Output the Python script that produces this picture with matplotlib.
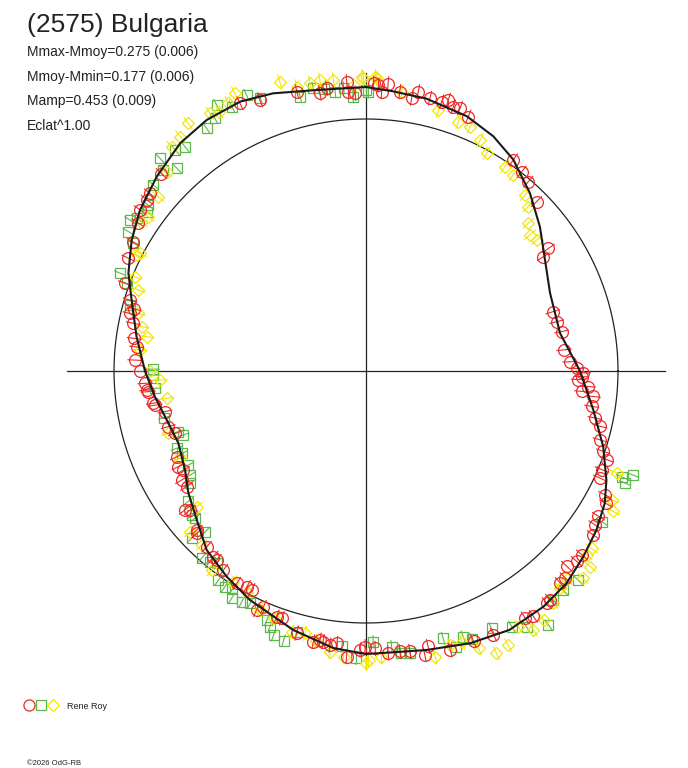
import numpy as np
import matplotlib.pyplot as plt

plt.rcParams['font.family'] = ['Liberation Sans', 'DejaVu Sans']

# units: 1 unit = 1 px at the chart scale, reference circle radius = 252
ref_radius = 252

# fitted curve: phase angle (deg) and radius
curve_ang = [180, 171.5, 163.1, 157.6, 150.8, 144.5, 137.1, 129.2, 122.4, 115,
             108.5, 100, 90, 84.5, 77.5, 68.4, 61.5, 55.1, 47.3, 39.7,
             31.9, 23, 11, 0, -9.7, -17.7, -24.4, -29, -34.6, -40.5,
             -46.6, -53, -61, -69, -77.7, -84.5, -90, -96.7, -105.7, -116.9,
             -124.1, -131.7, -138.6, -145.5, -151.3, -159, -166.2, -173, -180]
curve_r = [221, 232, 245, 257, 268.4, 277.5, 285.6, 294, 297.3, 297.3,
           292.8, 285.3, 284, 281, 279, 274, 267, 257.6, 241.8, 226,
           210.8, 199.9, 197.7, 214, 230.6, 249, 264, 273, 280, 285.8,
           292, 295, 296, 291.5, 285.5, 282.6, 283, 279, 269, 256.7,
           248.4, 239.6, 225.5, 215.5, 206.3, 201, 205.2, 212.6, 221]

# observations, series 1 (red circles)
red_ang = [87.5, 85.6, 86.8, 83.1, 80.5, 79.4, 76.8, 74.3, 73.1, 71.7, 70.3, 68.1,
           55.1, 52, 49.4, 44.8, 33.9, 32.8, 17.6, 14.5, 11.4, 6.1, 2.6, 0.7, -0.5,
           -1.5, -2.3, -4, -5.4, -6.4, -8.9, -11.6, -13.3, -16.4, -18.7, -20.2, -22.7,
           -24.6, -27.4, -28.9, -32, -33.9, -35.8, -40.4, -42.1, -44.2, -46.1, -47.5,
           -51.2, -52.1, -55.7, -57.2, -64.2, -68.3, -73.2, -77.3, -78.3, -81.1, -83.1,
           -85.5, -88.1, -90.2, -91.2, -93.9, -97.5, -99, -101, -104.8, -110, -113.5,
           -114.6, -118.9, -121.3, -125.6, -129.4, -132.2, -136.8, -141.7, -149.4,
           -151.5, -155.6, -164.3, -168.6, -171.4, -174.6, -176.8, 180, 177.3, 174,
           168.4, 166.3, 163.3, 160, 154.6, 144.5, 142, 140.6, 136, 115.2, 111.4,
           103.9, 99.4, 97.9, 93.8, 93.6, 92.2, 88.5,
           -175, -170.8, -161.9, -153, -147.2, -142.5, -136.2, -128.3, -117.6,
           -108.8, -99.7, -96.1, 172, 165, 151, 147]
red_r = [286.3, 287.9, 279.7, 281.4, 276.5, 284.2, 280.1, 279.7, 283.2, 278.3, 279, 274.1,
         257.6, 252.9, 249.4, 240.4, 219.8, 211, 195.9, 197, 199.6, 199.1, 204.2, 210.7, 217.3,
         215.7, 212.5, 222.9, 216.7, 228.7, 228.4, 233.8, 240.4, 243.9, 250.5, 256.5, 255.5,
         257.3, 269.1, 274, 274, 275.8, 280.1, 283.3, 283.9, 280, 287.1, 287.4,
         293.8, 294.3, 297, 293.8, 292.8, 290.8, 291.4, 282.3, 289.8, 283.7, 282.4,
         282.9, 277.5, 275.7, 279, 286.3, 276.4, 274, 275.8, 271.3, 261.4, 257.1,
         262.8, 246.5, 248.6, 244.9, 240.4, 237.2, 232.3, 224.3, 214.1,
         207.8, 207.8, 205.4, 205.1, 215.1, 218.7, 221.3, 226, 231.3, 230.6,
         237.5, 243, 246.4, 256.5, 263.1, 277.5, 278.1, 279.7, 284.3, 295.9, 291,
         287.8, 281.5, 285.4, 290, 279.9, 278, 288,
         220.1, 213.7, 200.9, 210.7, 213.4, 228.2, 234.5, 240.9, 247,
         261.3, 272.9, 273.9, 234, 240, 266, 272]

# series 2 (green squares)
green_ang = [113.4, 111.2, 116.9, 119.3, 120.9, 123.3, 128.9, 130.8, 133, 134.1, 135.2,
             138.8, 142.7, 144, 146.3, 147.4, 149.6, 151.2, 158.3, 159.9, 164.4, 179.5,
             -178.9, -175.3, -167, -162.1, -160.7, -157.8, -155.9, -152.1, -149.4, -147.5,
             -143.7, -140.4, -139.3, -135, -136.2, -131.3, -129.3, -127.8, -125.2, -123.2,
             -121.5, -120.6, -118.3, -116.5, -111.7, -110.6, -109.3, -107, -104.9, -95,
             -91.9, -88.5, -84.7, -83, -81.1, -73.9, -69.9, -68.5, -72, -64, -60.3, -57.9,
             -54.3, -50.7, -48, -44.6, -32.6, -22.5, -23.4, -21.3, 90, 103.5, 100.6, 98.5,
             96.3, 94.5, 92.7, 89.5]
green_r = [300.7, 292.6, 296.5, 305, 294.4, 290.3, 288.2, 292.1, 277.3, 296.1, 285.5,
           282.6, 273.8, 271.1, 275.5, 280.2, 275.5, 265.4, 264.7, 254.9, 245, 213,
           212.7, 211.7, 207, 197.3, 193.6, 204.5, 201.8, 201, 204.4, 208.8,
           220.4, 226.1, 225.7, 227.5, 241.6, 249.2, 246.4, 243.5, 255.9, 257.7,
           256, 264, 262, 259, 268.1, 273.1, 279.8, 282.1, 269.7, 276,
           287.5, 270.8, 276.9, 284, 285.7, 278.3, 283, 288, 290, 286.4, 294.3, 302.5,
           312.7, 295.8, 294.8, 297.9, 279.7, 276.7, 282.3, 286.3, 281, 282.2, 287.6, 285,
           281, 284, 274.6, 279]

# series 3 (yellow diamonds)
yellow_ang = [106.6, 103.7, 101, 99, 96.4, 92.5, 90.5, 87.9, 115.3, 117.2, 119.5, 121.2,
              125.7, 128.4, 130.9, 135, 140, 144.7, 146.5, 153.2, 152.5, 157.8, 160.4,
              165.8, 168.8, 171.1, 174.7, 180, -177.5, -172.2, -162.5, -154.9, -141.3,
              -137.6, -133.4, -127.8, -122.2, -118.4, -113.9, -110.5, -105.9, -103.1,
              -100.5, -97.3, -94.5, -90, -89.5, -86.9, -76.4, -73, -70.5, -67.9, -65.2,
              -62.6, -59.2, -57.1, -54.5, -51.1, -48.2, -46, -43.7, -41.1, -39.8, -38.2,
              -29.6, -27.6, -22.1, 90.8, 88.2, 82.7, 74.5, 69.7, 66.9, 63.7, 61, 55.8,
              53.1, 47.9, 45.4, 42.3, 39.7, 37.5]
yellow_r = [301.8, 292.6, 293.1, 294.6, 292.8, 286, 292.7, 292.9, 307, 301, 298, 301.2,
            304.8, 299.2, 296.8, 281.9, 271.1, 266.8, 270, 257, 254.8, 249.5, 241.7,
            234.9, 228.6, 222, 227, 216, 206.2, 201.2, 207.3, 205.5, 217,
            238.3, 239.3, 251.8, 249, 250.9, 261.5, 264.1, 271.1, 269.3,
            275, 283, 286.6, 292.3, 289, 286.1, 293.9, 286.6, 288, 299.2, 311.1,
            308.7, 297.6, 308.3, 305.7, 298.4, 291.3, 289, 300.3, 297.4, 287.3, 287,
            284.3, 277.4, 270.7, 294.3, 294.4, 281.6, 270.8, 265.9, 265.5, 257.6, 248.9, 247.1,
            245.2, 237.2, 231, 219.4, 213, 215.2]

err_red = 7
err_green = 6
err_yellow = 7

title = "(2575) Bulgaria"
info_lines = ["Mmax-Mmoy=0.275 (0.006)",
              "Mmoy-Mmin=0.177 (0.006)",
              "Mamp=0.453 (0.009)",
              "Eclat^1.00"]
observer = "Rene Roy"
credit = "\u00a92026 OdG-RB"

W, H = 688, 768
cx, cy = 366, 371

fig = plt.figure(figsize=(W / 100, H / 100), dpi=100)
ax = fig.add_axes([0, 0, 1, 1])
ax.set_xlim(-cx, W - cx)
ax.set_ylim(cy - H, cy)
ax.set_aspect('equal')
ax.axis('off')

ink = '#222222'

# reference circle and axes
t = np.linspace(0, 2 * np.pi, 400)
ax.plot(ref_radius * np.cos(t), ref_radius * np.sin(t), color=ink, lw=0.9)
ax.plot([-299, 299], [0, 0], color=ink, lw=0.9)
ax.plot([0, 0], [-297, 298], color=ink, lw=0.9)


def draw_series(angs, rs, err, color, marker, ms):
    a = np.radians(angs)
    r = np.array(rs)
    x = r * np.cos(a)
    y = r * np.sin(a)
    for ai, ri in zip(a, r):
        ax.plot([(ri - err) * np.cos(ai), (ri + err) * np.cos(ai)],
                [(ri - err) * np.sin(ai), (ri + err) * np.sin(ai)],
                color=color, lw=0.8)
    ax.plot(x, y, ls='none', marker=marker, ms=ms, mfc='none', mec=color, mew=0.9)


draw_series(green_ang, green_r, err_green, '#5cb848', 's', 7)
draw_series(yellow_ang, yellow_r, err_yellow, '#f2e600', 'D', 6)
draw_series(red_ang, red_r, err_red, '#ec2a2a', 'o', 8.5)

ca = np.radians(curve_ang)
cr = np.array(curve_r)
ax.plot(cr * np.cos(ca), cr * np.sin(ca), color='#1a1a1a', lw=1.5)


def fx(px):
    return px / W


def fy(py):
    return 1 - py / H


fig.text(fx(27), fy(32), title, fontsize=19, color=ink, va='baseline')
for i, line in enumerate(info_lines):
    fig.text(fx(27), fy(56 + 24.7 * i), line, fontsize=10, color=ink, va='baseline')

# legend
ax.plot(29 - cx, cy - 705, marker='o', ms=8, mfc='none', mec='#ec2a2a', mew=0.9)
ax.plot(41 - cx, cy - 705, marker='s', ms=7, mfc='none', mec='#5cb848', mew=0.9)
ax.plot(53 - cx, cy - 705, marker='D', ms=6, mfc='none', mec='#f2e600', mew=0.9)
fig.text(fx(67), fy(709), observer, fontsize=6.5, color=ink, va='baseline')

fig.text(fx(27), fy(765), credit, fontsize=5.5, color=ink, va='baseline')

fig.savefig('out.png', dpi=100)
